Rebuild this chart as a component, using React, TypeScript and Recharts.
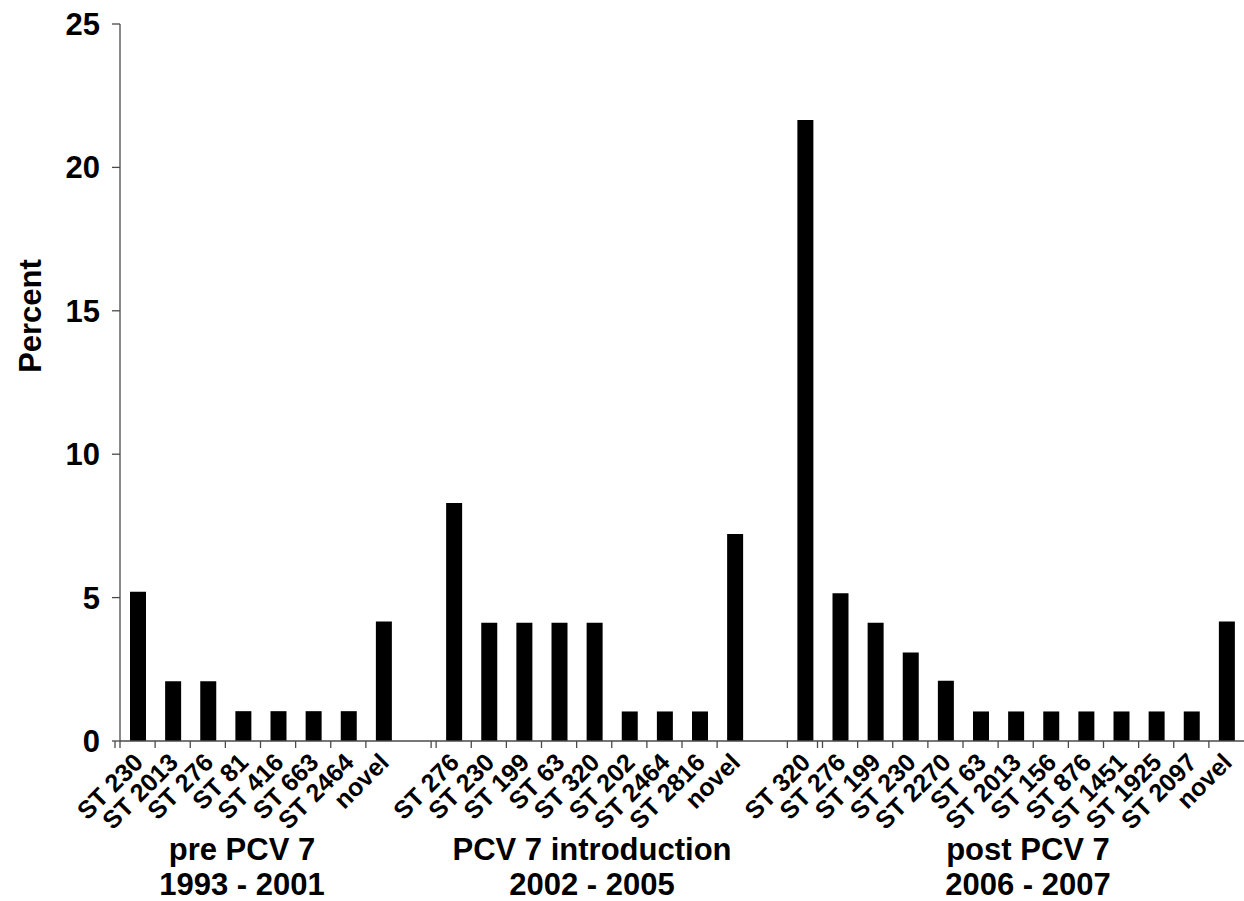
import React from 'react';
import { BarChart, Bar, XAxis, YAxis } from 'recharts';

const preCategories = ['ST 230', 'ST 2013', 'ST 276', 'ST 81', 'ST 416', 'ST 663', 'ST 2464', 'novel'];
const preValues = [5.2, 2.08, 2.08, 1.04, 1.04, 1.04, 1.04, 4.17];

const introCategories = ['ST 276', 'ST 230', 'ST 199', 'ST 63', 'ST 320', 'ST 202', 'ST 2464', 'ST 2816', 'novel'];
const introValues = [8.3, 4.12, 4.12, 4.12, 4.12, 1.03, 1.03, 1.03, 7.22];

const postCategories = ['ST 320', 'ST 276', 'ST 199', 'ST 230', 'ST 2270', 'ST 63', 'ST 2013', 'ST 156', 'ST 876', 'ST 1451', 'ST 1925', 'ST 2097', 'novel'];
const postValues = [21.65, 5.15, 4.12, 3.09, 2.1, 1.03, 1.03, 1.03, 1.03, 1.03, 1.03, 1.03, 4.17];

const yTicks = [0, 5, 10, 15, 20, 25];

const periodLines = [
  ['pre PCV 7', '1993 - 2001'],
  ['PCV 7 introduction', '2002 - 2005'],
  ['post PCV 7', '2006 - 2007'],
];

// indices of categories preceded by an axis break mark
const axisBreaks = [0, 9, 20];

const data = [
  ...preCategories.map((c, i) => ({ cat: c, value: preValues[i] })),
  { cat: '', value: null },
  ...introCategories.map((c, i) => ({ cat: c, value: introValues[i] })),
  { cat: '', value: null },
  ...postCategories.map((c, i) => ({ cat: c, value: postValues[i] })),
];

const FONT = '"Liberation Sans", Arial, sans-serif';
const AXIS = '#4a4a4a';

const CatTick = (props: any) => {
  const { x, y, payload, index } = props;
  const value = payload?.value ?? '';
  const half = payload?.offset && payload.offset > 0 ? payload.offset : 17.5;
  if (value === '') return <g />;
  const left = x - half;
  const isBreak = axisBreaks.includes(index);
  return (
    <g>
      <line x1={left} x2={left} y1={y} y2={y + 7} stroke={AXIS} strokeWidth={1.3} />
      {isBreak && (
        <line x1={left - 5} x2={left - 5} y1={y} y2={y + 7} stroke={AXIS} strokeWidth={1.3} />
      )}
      <text
        transform={`translate(${x + 7},${y + 23}) rotate(-45)`}
        textAnchor="end"
        fontFamily={FONT}
        fontWeight="bold"
        fontSize={25}
        fill="#000"
      >
        {value}
      </text>
    </g>
  );
};

const YTick = (props: any) => {
  const { x, y, payload } = props;
  return (
    <text
      x={x}
      y={y}
      dy={11}
      textAnchor="end"
      fontFamily={FONT}
      fontWeight="bold"
      fontSize={31}
      fill="#000"
    >
      {payload.value}
    </text>
  );
};

const groupCenters = [242, 592, 1028];

export default function App() {
  return (
    <div style={{ position: 'absolute', left: 0, top: 0, width: 1244, height: 901, background: '#fff' }}>
      <BarChart
        width={1244}
        height={901}
        data={data}
        margin={{ top: 24, right: 0, bottom: 0, left: 0 }}
        barSize={16}
      >
        <YAxis
          domain={[0, 25]}
          ticks={yTicks}
          width={120}
          tick={<YTick />}
          tickSize={8}
          tickMargin={12}
          stroke={AXIS}
          strokeWidth={1.3}
          tickLine={{ stroke: AXIS, strokeWidth: 1.3 }}
          axisLine={{ stroke: AXIS, strokeWidth: 1.3 }}
          interval={0}
        />
        <XAxis
          dataKey="cat"
          height={160}
          interval={0}
          tickLine={false}
          tickSize={0}
          tickMargin={0}
          tick={<CatTick />}
          axisLine={{ stroke: AXIS, strokeWidth: 1.3 }}
        />
        <Bar dataKey="value" fill="#000" isAnimationActive={false} />
      </BarChart>
      <svg
        width={1244}
        height={901}
        style={{ position: 'absolute', left: 0, top: 0, pointerEvents: 'none' }}
      >
        <text
          transform="translate(41,316) rotate(-90)"
          textAnchor="middle"
          fontFamily={FONT}
          fontWeight="bold"
          fontSize={31}
          fill="#000"
        >
          Percent
        </text>
        {periodLines.map((lines, i) => (
          <g key={i}>
            <text
              x={groupCenters[i]}
              y={860}
              textAnchor="middle"
              fontFamily={FONT}
              fontWeight="bold"
              fontSize={31}
              fill="#000"
            >
              {lines[0]}
            </text>
            <text
              x={groupCenters[i]}
              y={895}
              textAnchor="middle"
              fontFamily={FONT}
              fontWeight="bold"
              fontSize={31}
              fill="#000"
            >
              {lines[1]}
            </text>
          </g>
        ))}
      </svg>
    </div>
  );
}
